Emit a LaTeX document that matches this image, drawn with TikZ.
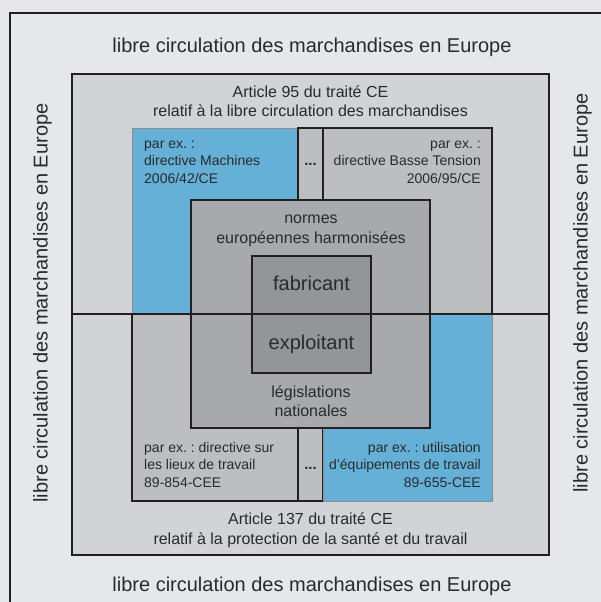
\documentclass[tikz,border=0pt]{standalone}
\usepackage{fontspec}
\setmainfont{Liberation Sans}
\usepackage{xcolor}
\definecolor{cframe} {HTML}{231F20}
\definecolor{ctext}  {HTML}{2A2A2B}
\definecolor{couter} {HTML}{E6E7E8}
\definecolor{cart}   {HTML}{D1D3D4}
\definecolor{cdir}   {HTML}{BCBEC0}
\definecolor{cnorm}  {HTML}{A7A9AC}
\definecolor{cactor} {HTML}{939598}
\definecolor{cblue}  {HTML}{65B0D7}
\definecolor{cbedge} {HTML}{8A8C8F}
\frenchspacing

\begin{document}
\begin{tikzpicture}[
  x=1pt, y=-1pt,
  box/.style   = {draw=cframe, line width=1.2pt},
  bbox/.style  = {draw=cbedge, line width=0.9pt, fill=cblue},
  txt/.style   = {inner sep=0pt, text=ctext},
  big/.style   = {txt, font=\fontsize{20}{24}\selectfont},
  mid/.style   = {txt, font=\fontsize{16}{19.5}\selectfont, align=center},
  sml/.style   = {txt, font=\fontsize{14}{17.5}\selectfont},
  dots/.style  = {txt, font=\fontsize{15}{18}\selectfont\bfseries}
]
\useasboundingbox (0,0) rectangle (601,602);

%% ── Frames ────────────────────────────────────────────────────────────────
\fill[couter] (0,0) rectangle (601,602);
\draw[box, fill=couter] (10,13) rectangle (640,640);
\draw[box, fill=cart]   (72,74) rectangle (549,555);

% directive boxes, upper half
\draw[bbox]             (132,128) rectangle (298,314);
\draw[box, fill=cdir]   (298,128) rectangle (323,314);
\draw[box, fill=cdir]   (323,128) rectangle (492,314);

% directive boxes, lower half
\draw[box, fill=cdir]   (132,314) rectangle (298,501);
\draw[box, fill=cdir]   (298,314) rectangle (323,501);
\draw[bbox]             (323,314) rectangle (492,501);

% standards / national law, then the two actors
\draw[box, fill=cnorm]  (191,200) rectangle (430,428);
\draw[box, fill=cactor] (252,256) rectangle (371,373);

% split line between the two articles
\draw[box] (72,314) -- (549,314);

%% ── Texts ─────────────────────────────────────────────────────────────────
% (multi-line nodes: base = baseline of the last line)
\node[big, anchor=base] (freetop) at (312,52.6) {libre circulation des marchandises en Europe};
\node[big, anchor=base] (freebot) at (312,591)  {libre circulation des marchandises en Europe};
\node[big, anchor=base, rotate=90] (freeleft)  at (47.6,303) {libre circulation des marchandises en Europe};
\node[big, anchor=base, rotate=90] (freeright) at (587.5,293) {libre circulation des marchandises en Europe};

\node[mid, anchor=base] (art95)  at (310.5,116.5) {Article 95 du traité CE\\relatif à la libre circulation des marchandises};
\node[mid, anchor=base] (art137) at (310.5,544)   {Article 137 du traité CE\\relatif à la protection de la santé et du travail};

\node[sml, anchor=base west, align=left]  (machines) at (144,183.3) {par ex. :\\directive Machines\\2006/42/CE};
\node[sml, anchor=base east, align=right] (tension)  at (481,183.3) {par ex. :\\directive Basse Tension\\2006/95/CE};
\node[sml, anchor=base west, align=left]  (lieux)    at (144,487.3) {par ex. : directive sur\\les lieux de travail\\89-854-CEE};
\node[sml, anchor=base east, align=right] (equip)    at (481,487.3) {par ex. : utilisation\\d’équipements de travail\\89-655-CEE};

\node[dots, anchor=base] (dotstop) at (310.5,165) {...};
\node[dots, anchor=base] (dotsbot) at (310.5,469) {...};

\node[mid, anchor=base] (normes) at (311,243.3) {normes\\européennes harmonisées};
\node[mid, anchor=base] (nation) at (311,416.8) {législations\\nationales};

\node[big, anchor=base] (fab)  at (311.5,290.5) {fabricant};
\node[big, anchor=base] (expl) at (311.5,349.4) {exploitant};

\end{tikzpicture}
\end{document}
